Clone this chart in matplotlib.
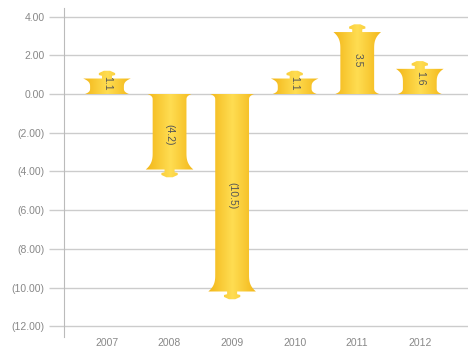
import numpy as np
import matplotlib.pyplot as plt
from matplotlib.patches import Polygon
from matplotlib.colors import LinearSegmentedColormap

# data
years = ['2007', '2008', '2009', '2010', '2011', '2012']
values = [1.1, -4.2, -10.5, 1.1, 3.5, 1.6]
labels = ['1.1', '(4.2)', '(10.5)', '1.1', '3.5', '1.6']
yticks = [4, 2, 0, -2, -4, -6, -8, -10, -12]

plt.rcParams['font.family'] = ['Liberation Sans', 'DejaVu Sans']

fig = plt.figure(figsize=(4.70, 3.49), dpi=100)
ax = fig.add_axes([0.1362, 0.0344, 0.8595, 0.9431])

gold = LinearSegmentedColormap.from_list('gold', ['#F2B516', '#FFDD52', '#F2B516'])
grad = np.linspace(0, 1, 64).reshape(1, -1)


def bar_outline(x, v):
    # half widths in x units, heights in y units
    hb, hf, hl = 0.27, 0.38, 0.35
    s = 1 if v >= 0 else -1
    a = abs(v)
    knob = 0.4
    end = a - 0.3
    flare = min(0.9, end * 0.55)
    lip = min(0.3, end * 0.4)
    right = []
    # base lip, concave
    for t in np.linspace(0, 1, 8):
        right.append((hb + (hl - hb) * (1 - t) ** 3, lip * t))
    right.append((hb, end - flare))
    # top flare, concave
    for t in np.linspace(0, 1, 12):
        right.append((hb + (hf - hb) * t ** 3, end - flare + flare * t))
    # knob
    right += [(0.08, end), (0.08, end + 0.14), (0.13, end + 0.18),
              (0.13, end + 0.28), (0.05, end + knob)]
    left = [(-px, py) for px, py in reversed(right)]
    pts = right + left
    return [(x + px, s * py) for px, py in pts]


for i, (v, lab) in enumerate(zip(values, labels)):
    poly = Polygon(bar_outline(i, v), closed=True, facecolor='none', edgecolor='none')
    ax.add_patch(poly)
    lo, hi = sorted([0, v + (0.3 if v > 0 else -0.3)])
    im = ax.imshow(grad, cmap=gold, aspect='auto', extent=[i - 0.4, i + 0.4, lo, hi],
                   interpolation='bilinear', zorder=2)
    im.set_clip_path(poly)
    ax.text(i, v / 2, lab, rotation=-90, ha='center', va='center',
            fontsize=7.5, color='#555555', zorder=3)


def fmt(t):
    return '(%.2f)' % abs(t) if t < 0 else '%.2f' % t


ax.set_xlim(-0.687, 5.77)
ax.set_ylim(-12.55, 4.45)
ax.set_yticks(yticks)
ax.set_yticklabels([fmt(t) for t in yticks])
ax.set_xticks(range(len(years)))
ax.set_xticklabels(years)
ax.grid(axis='y', color='#cccccc', linewidth=1)
ax.set_axisbelow(True)
for sp in ['top', 'right', 'bottom']:
    ax.spines[sp].set_visible(False)
ax.spines['left'].set_color('#bbbbbb')
ax.tick_params(axis='y', length=11, width=1, color='#cccccc', labelsize=7.5,
               labelcolor='#888888', pad=3)
ax.tick_params(axis='x', length=0, labelsize=7.5, labelcolor='#888888', pad=1)

fig.savefig('out.png', dpi=100)
